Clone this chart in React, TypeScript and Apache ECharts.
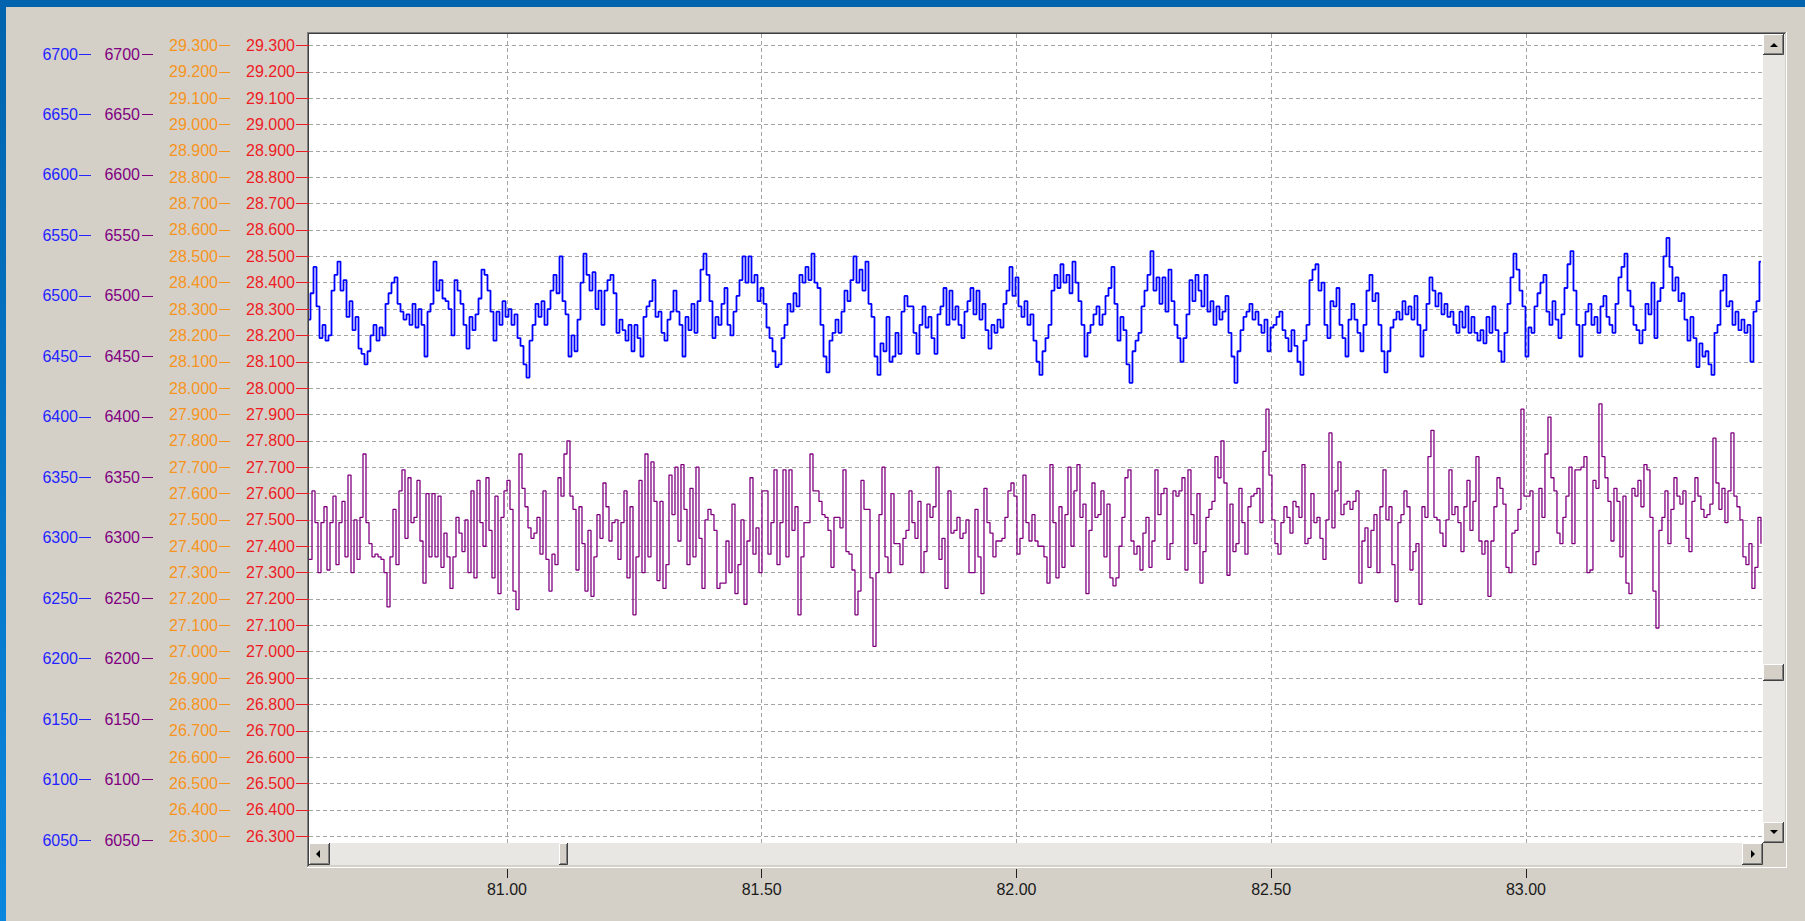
import React, { useEffect, useRef } from "react";
import * as echarts from "echarts";

// sample clock of the recorder (x axis units)
const T0 = 80.6114;
const DT = 0.005888;

// trace 1 (blue), read in the units of the right-hand (red) scale
const blueValues = [
  28.26, 28.36, 28.46, 28.31, 28.19, 28.24, 28.18, 28.20, 28.37, 28.43,
  28.48, 28.37, 28.41, 28.27, 28.33, 28.22, 28.27, 28.15, 28.13, 28.09,
  28.14, 28.20, 28.24, 28.18, 28.23, 28.20, 28.32, 28.36, 28.40, 28.42,
  28.32, 28.29, 28.26, 28.28, 28.24, 28.32, 28.23, 28.30, 28.24, 28.12,
  28.29, 28.32, 28.48, 28.37, 28.41, 28.34, 28.33, 28.30, 28.20, 28.41,
  28.37, 28.32, 28.24, 28.15, 28.27, 28.22, 28.28, 28.34, 28.45, 28.43,
  28.37, 28.29, 28.18, 28.29, 28.24, 28.33, 28.27, 28.30, 28.24, 28.28,
  28.19, 28.16, 28.09, 28.04, 28.18, 28.24, 28.32, 28.27, 28.33, 28.24,
  28.30, 28.37, 28.43, 28.36, 28.50, 28.33, 28.28, 28.12, 28.20, 28.14,
  28.26, 28.40, 28.51, 28.43, 28.37, 28.44, 28.30, 28.37,
  28.24, 28.37, 28.41, 28.43, 28.36, 28.21, 28.26, 28.22, 28.18, 28.24,
  28.14, 28.24, 28.19, 28.12, 28.27, 28.31, 28.33, 28.41, 28.27, 28.29,
  28.21, 28.18, 28.26, 28.29, 28.37, 28.29, 28.24, 28.12, 28.27, 28.22,
  28.32, 28.21, 28.33, 28.45, 28.51, 28.43, 28.33, 28.19, 28.27, 28.24,
  28.32, 28.38, 28.24, 28.20, 28.29, 28.35, 28.41, 28.50, 28.40, 28.50,
  28.40, 28.43, 28.33, 28.38, 28.32, 28.23, 28.19, 28.14, 28.08, 28.09,
  28.19, 28.24, 28.32, 28.29, 28.36, 28.31, 28.43, 28.40, 28.46, 28.41,
  28.51, 28.40, 28.38, 28.24, 28.12, 28.06, 28.18, 28.21, 28.26, 28.21,
  28.29, 28.37, 28.33, 28.41, 28.50, 28.40, 28.45, 28.37, 28.48, 28.32,
  28.27, 28.12, 28.05, 28.17, 28.14, 28.27, 28.10,
  28.12, 28.21, 28.13, 28.29, 28.35, 28.31, 28.31, 28.21, 28.13, 28.24,
  28.31, 28.23, 28.27, 28.19, 28.13, 28.28, 28.31, 28.38, 28.24, 28.37,
  28.26, 28.31, 28.24, 28.19, 28.29, 28.33, 28.38, 28.28, 28.37, 28.26,
  28.32, 28.22, 28.15, 28.24, 28.21, 28.26, 28.23, 28.32, 28.37, 28.46,
  28.35, 28.42, 28.31, 28.27, 28.33, 28.24, 28.28, 28.18, 28.10, 28.05,
  28.14, 28.19, 28.24, 28.37, 28.43, 28.38, 28.47, 28.40, 28.43, 28.36,
  28.48, 28.40, 28.33, 28.24, 28.12, 28.21, 28.24, 28.28, 28.31, 28.24,
  28.28, 28.35, 28.38, 28.46, 28.32, 28.18, 28.27, 28.22, 28.09, 28.02,
  28.14, 28.18, 28.21, 28.31, 28.37, 28.43, 28.52, 28.37, 28.42, 28.32,
  28.42, 28.29, 28.45, 28.33, 28.24, 28.19, 28.10,
  28.19, 28.28, 28.41, 28.33, 28.43, 28.37, 28.31, 28.43, 28.29, 28.33,
  28.24, 28.31, 28.26, 28.29, 28.35, 28.21, 28.12, 28.02, 28.14, 28.22,
  28.27, 28.29, 28.32, 28.26, 28.29, 28.24, 28.21, 28.26, 28.14, 28.23,
  28.24, 28.27, 28.29, 28.22, 28.19, 28.14, 28.22, 28.16, 28.10, 28.05,
  28.18, 28.24, 28.41, 28.45, 28.47, 28.37, 28.40, 28.24, 28.19, 28.33,
  28.31, 28.38, 28.24, 28.19, 28.12, 28.26, 28.32, 28.26, 28.21, 28.14,
  28.24, 28.37, 28.43, 28.33, 28.36, 28.24, 28.14, 28.06, 28.14, 28.23,
  28.26, 28.29, 28.26, 28.33, 28.28, 28.31, 28.26, 28.35, 28.24, 28.12,
  28.22, 28.32, 28.42, 28.37, 28.31, 28.36, 28.28, 28.32, 28.27, 28.29,
  28.24, 28.21, 28.29, 28.23, 28.31, 28.21,
  28.27, 28.21, 28.18, 28.22, 28.17, 28.27, 28.21, 28.31, 28.22, 28.14,
  28.10, 28.21, 28.32, 28.42, 28.51, 28.45, 28.37, 28.31, 28.12, 28.23,
  28.21, 28.31, 28.36, 28.40, 28.43, 28.29, 28.24, 28.33, 28.26, 28.19,
  28.28, 28.38, 28.47, 28.52, 28.37, 28.24, 28.12, 28.24, 28.29, 28.32,
  28.24, 28.27, 28.21, 28.31, 28.35, 28.27, 28.24, 28.21, 28.32, 28.42,
  28.46, 28.51, 28.37, 28.31, 28.24, 28.22, 28.17, 28.22, 28.32, 28.28,
  28.40, 28.19, 28.33, 28.38, 28.50, 28.57, 28.46, 28.37, 28.42, 28.33,
  28.36, 28.26, 28.18, 28.27, 28.19, 28.08, 28.17, 28.12, 28.14, 28.09,
  28.05, 28.21, 28.24, 28.37, 28.43, 28.31, 28.33, 28.24, 28.29, 28.22,
  28.26, 28.21, 28.24, 28.10, 28.29, 28.33, 28.48,
];

// trace 2 (purple), same units
const purpleValues = [
  27.35, 27.61, 27.49, 27.30, 27.49, 27.55, 27.31, 27.49, 27.59, 27.33,
  27.49, 27.57, 27.36, 27.67, 27.30, 27.50, 27.35, 27.51, 27.75, 27.49,
  27.41, 27.36, 27.37, 27.36, 27.35, 27.30, 27.17, 27.36, 27.54, 27.33,
  27.61, 27.69, 27.43, 27.66, 27.49, 27.51, 27.65, 27.42, 27.26, 27.60,
  27.36, 27.60, 27.36, 27.59, 27.32, 27.45, 27.36, 27.24, 27.36, 27.51,
  27.45, 27.38, 27.50, 27.30, 27.61, 27.28, 27.65, 27.49, 27.40, 27.66,
  27.46, 27.28, 27.59, 27.22, 27.51, 27.61, 27.65, 27.54, 27.23, 27.16,
  27.75, 27.62, 27.55, 27.47, 27.43, 27.45, 27.51, 27.37, 27.61, 27.35,
  27.23, 27.37, 27.33, 27.66, 27.59, 27.75, 27.80, 27.59, 27.54, 27.31,
  27.55, 27.41, 27.23, 27.46, 27.21, 27.36, 27.52, 27.43,
  27.64, 27.55, 27.42, 27.49, 27.50, 27.35, 27.49, 27.61, 27.28, 27.55,
  27.14, 27.36, 27.65, 27.30, 27.75, 27.36, 27.72, 27.57, 27.27, 27.57,
  27.24, 27.33, 27.67, 27.52, 27.70, 27.42, 27.71, 27.54, 27.33, 27.62,
  27.36, 27.70, 27.43, 27.24, 27.50, 27.54, 27.52, 27.46, 27.24, 27.26,
  27.26, 27.42, 27.30, 27.56, 27.22, 27.33, 27.50, 27.18, 27.42, 27.66,
  27.37, 27.47, 27.30, 27.61, 27.61, 27.37, 27.49, 27.69, 27.33, 27.49,
  27.69, 27.36, 27.69, 27.46, 27.55, 27.14, 27.36, 27.49, 27.49, 27.75,
  27.61, 27.61, 27.57, 27.52, 27.51, 27.46, 27.32, 27.51, 27.51, 27.47,
  27.69, 27.38, 27.37, 27.31, 27.14, 27.23, 27.65, 27.54, 27.54, 27.28,
  27.02, 27.30, 27.52, 27.70, 27.36, 27.30, 27.60,
  27.41, 27.41, 27.33, 27.43, 27.46, 27.61, 27.49, 27.43, 27.57, 27.30,
  27.38, 27.56, 27.51, 27.55, 27.70, 27.35, 27.43, 27.24, 27.61, 27.45,
  27.46, 27.51, 27.43, 27.45, 27.50, 27.30, 27.30, 27.54, 27.36, 27.22,
  27.62, 27.49, 27.45, 27.36, 27.42, 27.42, 27.43, 27.51, 27.61, 27.64,
  27.59, 27.37, 27.43, 27.67, 27.49, 27.42, 27.52, 27.42, 27.40, 27.40,
  27.36, 27.26, 27.71, 27.49, 27.28, 27.55, 27.32, 27.52, 27.70, 27.40,
  27.61, 27.71, 27.51, 27.56, 27.22, 27.46, 27.64, 27.51, 27.52, 27.61,
  27.36, 27.56, 27.28, 27.25, 27.28, 27.40, 27.51, 27.66, 27.69, 27.42,
  27.37, 27.40, 27.31, 27.45, 27.51, 27.32, 27.42, 27.69, 27.52, 27.60,
  27.62, 27.35, 27.41, 27.61, 27.59, 27.61, 27.66,
  27.31, 27.69, 27.52, 27.41, 27.60, 27.26, 27.38, 27.51, 27.54, 27.57,
  27.74, 27.66, 27.80, 27.64, 27.29, 27.56, 27.38, 27.41, 27.62, 27.49,
  27.37, 27.55, 27.59, 27.60, 27.62, 27.49, 27.76, 27.92, 27.67, 27.50,
  27.41, 27.37, 27.49, 27.55, 27.51, 27.45, 27.57, 27.55, 27.51, 27.71,
  27.41, 27.43, 27.60, 27.49, 27.51, 27.43, 27.35, 27.50, 27.83, 27.47,
  27.61, 27.72, 27.52, 27.56, 27.57, 27.54, 27.57, 27.61, 27.26, 27.42,
  27.47, 27.32, 27.46, 27.52, 27.30, 27.55, 27.69, 27.50, 27.55, 27.33,
  27.19, 27.49, 27.52, 27.61, 27.55, 27.31, 27.38, 27.41, 27.18, 27.55,
  27.51, 27.74, 27.84, 27.51, 27.50, 27.45, 27.40, 27.50, 27.69, 27.52,
  27.55, 27.49, 27.38, 27.55, 27.65, 27.46,
  27.57, 27.74, 27.42, 27.37, 27.42, 27.21, 27.42, 27.55, 27.66, 27.62,
  27.56, 27.32, 27.30, 27.45, 27.46, 27.54, 27.92, 27.59, 27.59, 27.61,
  27.33, 27.38, 27.62, 27.51, 27.75, 27.89, 27.66, 27.61, 27.45, 27.41,
  27.51, 27.59, 27.70, 27.41, 27.69, 27.69, 27.70, 27.74, 27.30, 27.31,
  27.65, 27.62, 27.94, 27.74, 27.66, 27.57, 27.42, 27.62, 27.57, 27.36,
  27.59, 27.26, 27.22, 27.62, 27.59, 27.65, 27.55, 27.71, 27.69, 27.51,
  27.23, 27.09, 27.46, 27.51, 27.61, 27.41, 27.54, 27.66, 27.59, 27.56,
  27.61, 27.43, 27.38, 27.57, 27.66, 27.59, 27.54, 27.51, 27.52, 27.56,
  27.81, 27.64, 27.54, 27.62, 27.49, 27.61, 27.83, 27.59, 27.55, 27.50,
  27.36, 27.33, 27.41, 27.24, 27.32, 27.51, 27.41,
];

// tick labels
const tempTicks = [
  26.3, 26.4, 26.5, 26.6, 26.7, 26.8, 26.9, 27.0, 27.1, 27.2, 27.3, 27.4,
  27.5, 27.6, 27.7, 27.8, 27.9, 28.0, 28.1, 28.2, 28.3, 28.4, 28.5, 28.6,
  28.7, 28.8, 28.9, 29.0, 29.1, 29.2, 29.3,
];
const countTicks = [
  6050, 6100, 6150, 6200, 6250, 6300, 6350, 6400, 6450, 6500, 6550, 6600,
  6650, 6700,
];
const timeTicks = [81.0, 81.5, 82.0, 82.5, 83.0];

const FONT = "'Liberation Sans', Arial, sans-serif";
const BG = "#d4d0c8";

function button(x: number, y: number, w: number, h: number): any[] {
  return [
    { type: "rect", silent: true, shape: { x, y, width: w, height: h }, style: { fill: BG } },
    {
      type: "polyline", silent: true,
      shape: { points: [[x + 0.5, y + h - 1], [x + 0.5, y + 0.5], [x + w - 1, y + 0.5]] },
      style: { stroke: "#ffffff", lineWidth: 1, fill: null },
    },
    {
      type: "polyline", silent: true,
      shape: { points: [[x, y + h - 0.5], [x + w - 0.5, y + h - 0.5], [x + w - 0.5, y]] },
      style: { stroke: "#404040", lineWidth: 1, fill: null },
    },
    {
      type: "polyline", silent: true,
      shape: { points: [[x + 1, y + h - 1.5], [x + w - 1.5, y + h - 1.5], [x + w - 1.5, y + 1]] },
      style: { stroke: "#808080", lineWidth: 1, fill: null },
    },
  ];
}

function tri(points: number[][]): any {
  return { type: "polygon", silent: true, shape: { points }, style: { fill: "#000000" } };
}

function line(x1: number, y1: number, x2: number, y2: number, color: string): any {
  return { type: "line", silent: true, shape: { x1, y1, x2, y2 }, style: { stroke: color, lineWidth: 1 } };
}

function yAxis(
  min: number, max: number, offset: number, color: string, ticks: number[],
  decimals: number, tickLen: number, margin: number, split: boolean
): any {
  return {
    type: "value",
    position: "left",
    min, max, offset,
    axisLine: { show: false },
    axisTick: { show: true, inside: false, length: tickLen, customValues: ticks, lineStyle: { color, width: 1 } },
    axisLabel: {
      show: true, customValues: ticks, margin, color, fontSize: 16, fontFamily: FONT,
      formatter: (v: number) => Number(v).toFixed(decimals),
    },
    splitLine: { show: split, lineStyle: { color: "#a4a4a4", width: 1, type: [4, 3] } },
  };
}

export default function App() {
  const ref = useRef<HTMLDivElement>(null);
  useEffect(() => {
    if (!ref.current) return;
    const chart = echarts.init(ref.current, null, { renderer: "svg" });

    const TEMP_MIN = 26.2742, TEMP_MAX = 29.3436;
    const CNT_MIN = 6047.52, CNT_MAX = 6716.54;
    const X_MIN = 80.6114, X_MAX = 83.4652;

    const blueData = blueValues.map((v, i) => [T0 + i * DT, v]);
    const purpleData = purpleValues.map((v, i) => [T0 + i * DT, v]);

    const g: any[] = [];
    // window frame
    g.push({ type: "rect", silent: true, shape: { x: 0, y: 0, width: 1805, height: 7 }, style: { fill: "#0063ad" } });
    g.push({
      type: "rect", silent: true, shape: { x: 0, y: 0, width: 6, height: 921 },
      style: {
        fill: new echarts.graphic.LinearGradient(0, 0, 0, 1, [
          { offset: 0, color: "#0063ad" },
          { offset: 1, color: "#0a86de" },
        ]),
      },
    });
    // sunken frame of the plot control
    g.push(line(307.5, 32, 307.5, 867, "#808080"));
    g.push(line(307, 32.5, 1786, 32.5, "#808080"));
    g.push(line(308.5, 33, 308.5, 866, "#404040"));
    g.push(line(308, 33.5, 1785, 33.5, "#404040"));
    g.push(line(1786.5, 32, 1786.5, 868, "#ffffff"));
    g.push(line(307, 867.5, 1787, 867.5, "#ffffff"));
    // scrollbar tracks
    g.push({ type: "rect", silent: true, shape: { x: 1763, y: 34, width: 22, height: 809 }, style: { fill: "#e9e7e3" } });
    g.push({ type: "rect", silent: true, shape: { x: 309, y: 843, width: 1454, height: 22 }, style: { fill: "#e9e7e3" } });
    g.push({ type: "rect", silent: true, shape: { x: 1763, y: 843, width: 22, height: 22 }, style: { fill: BG } });
    // buttons
    g.push(...button(1763, 34, 21, 21));
    g.push(tri([[1770, 47], [1778, 47], [1774, 43]]));
    g.push(...button(1763, 822, 21, 21));
    g.push(tri([[1770, 830], [1778, 830], [1774, 834]]));
    g.push(...button(1763, 664, 21, 17));
    g.push(...button(309, 843, 21, 22));
    g.push(tri([[316, 854], [320, 850], [320, 858]]));
    g.push(...button(1742, 843, 21, 22));
    g.push(tri([[1755, 854], [1751, 850], [1751, 858]]));
    g.push(...button(559, 843, 9, 22));

    chart.setOption({
      animation: false,
      backgroundColor: BG,
      textStyle: { fontFamily: FONT },
      grid: {
        left: 309, top: 34, width: 1454, height: 809,
        show: true, backgroundColor: "#ffffff", borderWidth: 0,
        containLabel: false, outerBoundsMode: "none",
      },
      xAxis: {
        type: "value", position: "bottom", min: X_MIN, max: X_MAX, offset: 26,
        axisLine: { show: false },
        axisTick: { show: true, length: 9, customValues: timeTicks, lineStyle: { color: "#202020", width: 1 } },
        axisLabel: {
          customValues: timeTicks, margin: 12, color: "#1a1a1a", fontSize: 16, fontFamily: FONT,
          formatter: (v: number) => Number(v).toFixed(2),
        },
        splitLine: { show: true, lineStyle: { color: "#a4a4a4", width: 1, type: [4, 3] } },
      },
      yAxis: [
        yAxis(TEMP_MIN, TEMP_MAX, 0, "#ed1c24", tempTicks, 3, 13, 14, true),
        yAxis(TEMP_MIN, TEMP_MAX, 79, "#f7941d", tempTicks, 3, 11, 12, false),
        yAxis(CNT_MIN, CNT_MAX, 156, "#800080", countTicks, 0, 11, 13, false),
        yAxis(CNT_MIN, CNT_MAX, 218, "#2424ff", countTicks, 0, 12, 13, false),
      ],
      series: [
        {
          type: "line", name: "trace1", yAxisIndex: 0, data: blueData, step: "middle",
          showSymbol: false, symbol: "none", clip: true,
          lineStyle: { color: "#0000ff", width: 1.8 }, itemStyle: { color: "#0000ff" },
        },
        {
          type: "line", name: "trace2", yAxisIndex: 0, data: purpleData, step: "end",
          showSymbol: false, symbol: "none", clip: true,
          lineStyle: { color: "#800080", width: 1.3 }, itemStyle: { color: "#800080" },
        },
      ],
      graphic: { elements: g },
    });
    return () => chart.dispose();
  }, []);
  return (
    <div
      ref={ref}
      style={{ position: "fixed", left: 0, top: 0, width: 1805, height: 921 }}
    />
  );
}
